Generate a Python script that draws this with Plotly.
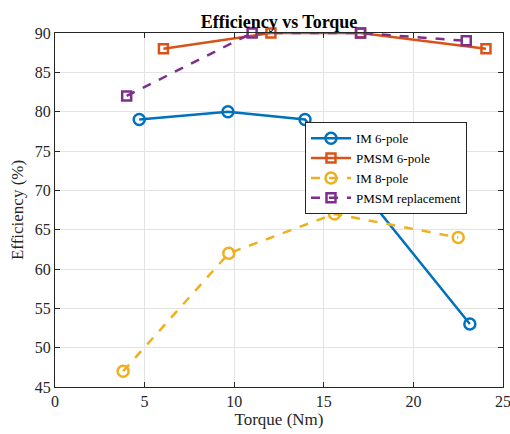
import plotly.graph_objects as go

im6_x = [4.7, 9.65, 13.95, 23.15]
im6_y = [79, 80, 79, 53]
pm6_x = [6.05, 12.05, 17.05, 24.05]
pm6_y = [88, 90, 90, 88]
im8_x = [3.8, 9.7, 15.6, 22.5]
im8_y = [47, 62, 67, 64]
pmr_x = [4.0, 11.0, 17.05, 22.95]
pmr_y = [82, 90, 90, 89]

names = ["IM 6-pole", "PMSM 6-pole", "IM 8-pole", "PMSM replacement"]
colors = ["#0072BD", "#D95319", "#EDB120", "#7E2F8E"]

fig = go.Figure()
series = [(im6_x, im6_y, "solid", "circle-open"),
          (pm6_x, pm6_y, "solid", "square-open"),
          (im8_x, im8_y, "dash", "circle-open"),
          (pmr_x, pmr_y, "dash", "square-open")]
for (x, y, dash, sym), n, c in zip(series, names, colors):
    fig.add_trace(go.Scatter(
        x=x, y=y, name=n, mode="lines+markers", cliponaxis=False,
        line=dict(color=c, width=2.5, dash=dash),
        marker=dict(symbol=sym, size=11 if "circle" in sym else 9, color=c, line=dict(color=c, width=2.5)),
    ))

axis_common = dict(
    showline=True, linecolor="#262626", linewidth=1, mirror="ticks",
    ticks="inside", ticklen=5, tickcolor="#262626", automargin=False,
    showgrid=True, gridcolor="#e3e3e3", gridwidth=1, zeroline=False,
    tickfont=dict(family="Liberation Serif", size=16, color="#262626"),
    ticklabeloverflow="allow",
)
fig.update_xaxes(range=[0, 25], tickvals=[0, 5, 10, 15, 20, 25],
                 title=dict(text="Torque (Nm)", font=dict(family="Liberation Serif", size=17, color="#262626"), standoff=2),
                 **axis_common)
fig.update_yaxes(range=[45, 90], tickvals=[45, 50, 55, 60, 65, 70, 75, 80, 85, 90],
                 title=dict(text="Efficiency (%)", font=dict(family="Liberation Serif", size=17, color="#262626"), standoff=6),
                 **axis_common)

fig.update_layout(
    width=510, height=434,
    margin=dict(l=55, r=7, t=33, b=47, autoexpand=False),
    paper_bgcolor="white", plot_bgcolor="white",
    title=dict(text="<b>Efficiency vs Torque</b>", x=0.5, xanchor="center", xref="paper",
               y=1, yref="paper", yanchor="bottom", pad=dict(b=5),
               font=dict(family="Liberation Serif", size=18, color="black")),
    legend=dict(x=0.558, y=0.748, xanchor="left", yanchor="top",
                bgcolor="white", bordercolor="#262626", borderwidth=1,
                font=dict(family="Liberation Serif", size=13, color="black"),
                tracegroupgap=0, itemwidth=40),
    showlegend=True,
)

fig.write_html("out.html", config={"displayModeBar": False},
               post_script="document.body.style.margin='0px';")
